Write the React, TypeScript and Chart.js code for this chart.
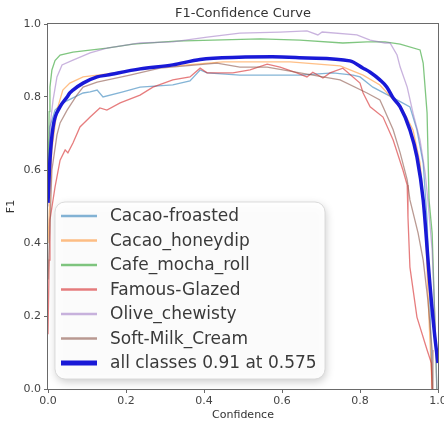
import React, { useEffect, useRef } from 'react';
import { Chart, registerables } from 'chart.js';

Chart.register(...registerables);

const chartTitle = 'F1-Confidence Curve';
const xAxisTitle = 'Confidence';
const yAxisTitle = 'F1';
const axisTicks = [0, 0.2, 0.4, 0.6, 0.8, 1.0];

const classNames = [
  'Cacao-froasted',
  'Cacao_honeydip',
  'Cafe_mocha_roll',
  'Famous-Glazed',
  'Olive_chewisty',
  'Soft-Milk_Cream',
];
const allClassesLabel = 'all classes 0.91 at 0.575';

const classColors = [
  'rgba(31,119,180,0.55)',
  'rgba(255,127,14,0.5)',
  'rgba(44,160,44,0.6)',
  'rgba(214,39,40,0.6)',
  'rgba(148,103,189,0.5)',
  'rgba(140,86,75,0.6)',
];
const allClassesColor = 'rgb(25,25,215)';

const cacaoFroastedConf = [0, 0.005, 0.018, 0.038, 0.09, 0.108, 0.126, 0.141, 0.192, 0.236, 0.32, 0.364, 0.39, 0.408, 0.492, 0.646, 0.731, 0.782, 0.8, 0.833, 0.895, 0.928, 0.946, 0.962, 0.972, 0.979, 0.985];
const cacaoFroastedF1 = [0.55, 0.718, 0.764, 0.784, 0.811, 0.814, 0.819, 0.8, 0.814, 0.827, 0.833, 0.844, 0.874, 0.866, 0.86, 0.86, 0.866, 0.86, 0.855, 0.827, 0.792, 0.773, 0.71, 0.619, 0.463, 0.244, 0];

const cacaoHoneydipConf = [0, 0.01, 0.023, 0.038, 0.056, 0.09, 0.126, 0.287, 0.449, 0.621, 0.749, 0.808, 0.851, 0.91, 0.936, 0.954, 0.967, 0.977, 0.985];
const cacaoHoneydipF1 = [0.4, 0.655, 0.764, 0.819, 0.838, 0.855, 0.86, 0.882, 0.896, 0.896, 0.885, 0.86, 0.833, 0.764, 0.71, 0.619, 0.463, 0.19, 0];

const cafeMochaConf = [0, 0.003, 0.005, 0.01, 0.018, 0.031, 0.064, 0.151, 0.218, 0.326, 0.544, 0.646, 0.756, 0.818, 0.864, 0.903, 0.954, 0.962, 0.972, 0.977, 0.985, 0.992, 0.997];
const cafeMochaF1 = [0.55, 0.76, 0.827, 0.874, 0.9, 0.915, 0.923, 0.934, 0.945, 0.953, 0.959, 0.956, 0.948, 0.951, 0.951, 0.945, 0.929, 0.893, 0.756, 0.518, 0.427, 0.19, 0];

const famousGlazedConf = [0, 0.003, 0.005, 0.018, 0.031, 0.044, 0.051, 0.064, 0.082, 0.108, 0.133, 0.151, 0.185, 0.236, 0.269, 0.32, 0.364, 0.39, 0.408, 0.474, 0.518, 0.562, 0.595, 0.638, 0.664, 0.679, 0.705, 0.723, 0.756, 0.8, 0.808, 0.826, 0.859, 0.885, 0.91, 0.921, 0.923, 0.928, 0.946, 0.972, 0.983, 0.985];
const famousGlazedF1 = [0.15, 0.353, 0.463, 0.553, 0.627, 0.655, 0.647, 0.674, 0.718, 0.745, 0.77, 0.764, 0.784, 0.805, 0.827, 0.847, 0.855, 0.879, 0.866, 0.866, 0.874, 0.89, 0.882, 0.866, 0.855, 0.868, 0.852, 0.866, 0.879, 0.838, 0.811, 0.773, 0.745, 0.682, 0.6, 0.559, 0.471, 0.334, 0.197, 0.107, 0.071, 0];

const oliveChewistyConf = [0, 0.005, 0.013, 0.023, 0.036, 0.064, 0.108, 0.151, 0.236, 0.32, 0.408, 0.492, 0.595, 0.664, 0.692, 0.703, 0.792, 0.826, 0.864, 0.877, 0.895, 0.903, 0.921, 0.936, 0.954, 0.967, 0.974, 0.985, 0.992, 0.997];
const oliveChewistyF1 = [0.5, 0.718, 0.792, 0.855, 0.888, 0.901, 0.921, 0.934, 0.948, 0.951, 0.964, 0.975, 0.978, 0.981, 0.97, 0.978, 0.97, 0.956, 0.948, 0.948, 0.915, 0.882, 0.827, 0.756, 0.682, 0.592, 0.518, 0.381, 0.19, 0];

const softMilkConf = [0, 0.01, 0.023, 0.031, 0.049, 0.074, 0.09, 0.126, 0.21, 0.287, 0.433, 0.492, 0.562, 0.646, 0.749, 0.818, 0.851, 0.859, 0.885, 0.903, 0.921, 0.928, 0.949, 0.962, 0.974, 0.985, 0.987];
const softMilkF1 = [0.3, 0.6, 0.696, 0.729, 0.764, 0.805, 0.827, 0.841, 0.86, 0.879, 0.893, 0.882, 0.882, 0.866, 0.847, 0.811, 0.792, 0.773, 0.71, 0.647, 0.573, 0.518, 0.427, 0.353, 0.244, 0.107, 0];

const allClassesConf = [0, 0.005, 0.013, 0.031, 0.049, 0.056, 0.064, 0.09, 0.126, 0.151, 0.236, 0.32, 0.39, 0.49, 0.575, 0.664, 0.774, 0.808, 0.826, 0.851, 0.869, 0.885, 0.903, 0.928, 0.946, 0.962, 0.979, 0.992, 1.0];
const allClassesF1 = [0.51, 0.627, 0.718, 0.773, 0.8, 0.811, 0.819, 0.838, 0.855, 0.86, 0.877, 0.888, 0.903, 0.909, 0.91, 0.907, 0.899, 0.879, 0.868, 0.847, 0.827, 0.797, 0.773, 0.71, 0.636, 0.518, 0.29, 0.142, 0.071];

const classConfs = [cacaoFroastedConf, cacaoHoneydipConf, cafeMochaConf, famousGlazedConf, oliveChewistyConf, softMilkConf];
const classF1s = [cacaoFroastedF1, cacaoHoneydipF1, cafeMochaF1, famousGlazedF1, oliveChewistyF1, softMilkF1];

const toPoints = (xs: number[], ys: number[]) => xs.map((x, i) => ({ x, y: ys[i] }));

const FONT = '"DejaVu Sans", Verdana, sans-serif';

const framePlugin = {
  id: 'frameAndTitle',
  afterDatasetsDraw(chart: any) {
    const { ctx, chartArea } = chart;
    ctx.save();
    ctx.strokeStyle = '#6a6a6a';
    ctx.lineWidth = 1;
    ctx.strokeRect(chartArea.left - 0.5, chartArea.top - 0.5, chartArea.right - chartArea.left + 1, chartArea.bottom - chartArea.top + 1);
    ctx.fillStyle = '#333';
    ctx.font = `13px ${FONT}`;
    ctx.textAlign = 'center';
    ctx.textBaseline = 'middle';
    ctx.fillText(chartTitle, (chartArea.left + chartArea.right) / 2, chartArea.top - 10);

    // legend box
    const lx = chartArea.left + 7;
    const ly = chartArea.top + 178;
    const lw = 270;
    const lh = 177;
    const r = 10;
    ctx.beginPath();
    ctx.moveTo(lx + r, ly);
    ctx.arcTo(lx + lw, ly, lx + lw, ly + lh, r);
    ctx.arcTo(lx + lw, ly + lh, lx, ly + lh, r);
    ctx.arcTo(lx, ly + lh, lx, ly, r);
    ctx.arcTo(lx, ly, lx + lw, ly, r);
    ctx.closePath();
    ctx.save();
    ctx.shadowColor = 'rgba(0,0,0,0.22)';
    ctx.shadowBlur = 8;
    ctx.shadowOffsetX = 1;
    ctx.shadowOffsetY = 3;
    ctx.fillStyle = 'rgba(255,255,255,0.92)';
    ctx.fill();
    ctx.restore();
    ctx.strokeStyle = 'rgba(215,215,215,0.9)';
    ctx.lineWidth = 1;
    ctx.stroke();

    const labels = [...classNames, allClassesLabel];
    const colors = [...classColors, allClassesColor];
    ctx.font = `17px ${FONT}`;
    ctx.textAlign = 'left';
    ctx.textBaseline = 'middle';
    labels.forEach((lab, i) => {
      const cy = ly + 14 + i * 24.5;
      ctx.beginPath();
      ctx.strokeStyle = colors[i];
      ctx.lineWidth = i === labels.length - 1 ? 5 : 2.5;
      ctx.moveTo(lx + 6, cy);
      ctx.lineTo(lx + 42, cy);
      ctx.stroke();
      ctx.fillStyle = '#3a3a3a';
      ctx.fillText(lab, lx + 55, cy + 1);
    });
    ctx.restore();
  },
};

export default function App() {
  const canvasRef = useRef<HTMLCanvasElement>(null);

  useEffect(() => {
    if (!canvasRef.current) return;
    const datasets: any[] = classNames.map((name, i) => ({
      label: name,
      data: toPoints(classConfs[i], classF1s[i]),
      borderColor: classColors[i],
      borderWidth: 1.3,
      pointRadius: 0,
      tension: 0,
      order: 7 - i,
    }));
    datasets.push({
      label: allClassesLabel,
      data: toPoints(allClassesConf, allClassesF1),
      borderColor: allClassesColor,
      borderWidth: 3.5,
      pointRadius: 0,
      cubicInterpolationMode: 'monotone',
      order: 0,
    });

    const tickColor = '#444';
    const chart = new Chart(canvasRef.current, {
      type: 'line',
      data: { datasets },
      options: {
        animation: false,
        responsive: false,
        devicePixelRatio: 1,
        layout: { padding: { top: 24, right: 6, bottom: 0, left: 0 } },
        plugins: { legend: { display: false }, tooltip: { enabled: false }, title: { display: false } },
        scales: {
          x: {
            type: 'linear',
            min: 0,
            max: 1,
            afterBuildTicks: (scale: any) => {
              scale.ticks = axisTicks.map((v) => ({ value: v }));
            },
            afterFit: (scale: any) => {
              scale.height = 34;
              scale.paddingLeft = 0;
              scale.paddingRight = 0;
            },
            ticks: {
              color: tickColor,
              font: { family: FONT, size: 11 },
              padding: 2,
              maxRotation: 0,
              autoSkip: false,
              callback: (v: any) => Number(v).toFixed(1),
            },
            grid: { drawOnChartArea: false, drawTicks: true, tickLength: 4, color: '#6a6a6a' },
            border: { display: false },
            title: {
              display: true,
              text: xAxisTitle,
              color: '#333',
              font: { family: FONT, size: 11 },
              padding: { top: 0, bottom: 1 },
            },
          },
          y: {
            type: 'linear',
            min: 0,
            max: 1,
            afterBuildTicks: (scale: any) => {
              scale.ticks = axisTicks.map((v) => ({ value: v }));
            },
            afterFit: (scale: any) => {
              scale.width = 48;
              scale.paddingTop = 0;
              scale.paddingBottom = 0;
            },
            ticks: {
              color: tickColor,
              font: { family: FONT, size: 11 },
              padding: 3,
              autoSkip: false,
              callback: (v: any) => Number(v).toFixed(1),
            },
            grid: { drawOnChartArea: false, drawTicks: true, tickLength: 4, color: '#6a6a6a' },
            border: { display: false },
            title: {
              display: true,
              text: yAxisTitle,
              color: '#333',
              font: { family: FONT, size: 11 },
              padding: { top: 5, bottom: 0 },
            },
          },
        },
      },
      plugins: [framePlugin],
    });
    return () => chart.destroy();
  }, []);

  return (
    <div style={{ position: 'absolute', left: 0, top: 0, width: 444, height: 423, background: '#fff' }}>
      <canvas ref={canvasRef} width={444} height={423} style={{ display: 'block' }} />
    </div>
  );
}
